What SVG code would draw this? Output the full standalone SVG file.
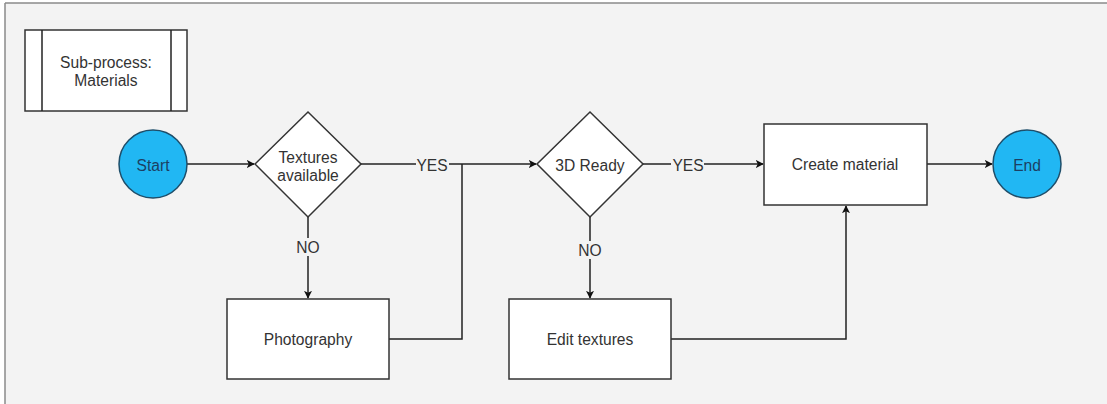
<svg xmlns="http://www.w3.org/2000/svg" width="1107" height="404" viewBox="0 0 1107 404">
<defs>
<style>
.box{fill:#ffffff;stroke:#333333;stroke-width:1.5}
.term{fill:#21b7f3;stroke:#1e4e6a;stroke-width:1.5}
.t{font-family:"Liberation Sans",Arial,sans-serif;font-size:15.6px;fill:#333333;text-anchor:middle;dominant-baseline:central}
.tt{font-family:"Liberation Sans",Arial,sans-serif;font-size:15.6px;fill:#1c3f63;text-anchor:middle;dominant-baseline:central}
.lbl{font-family:"Liberation Sans",Arial,sans-serif;font-size:15.6px;fill:#333333;text-anchor:middle;dominant-baseline:central}
.ln{fill:none;stroke:#222222;stroke-width:1.5}
</style>
<marker id="arr" viewBox="0 0 10 10" refX="9" refY="5" markerWidth="8" markerHeight="8" markerUnits="userSpaceOnUse" orient="auto">
<path d="M0,0 L10,5 L0,10 L2.5,5 Z" fill="#111111"/>
</marker>
</defs>
<rect x="0" y="0" width="1107" height="404" fill="#ffffff"/>
<rect x="5" y="3" width="1102" height="401" fill="#f3f3f3"/>
<line x1="5" y1="3" x2="1107" y2="3" stroke="#8a8a8a" stroke-width="1.5"/>
<line x1="5" y1="3" x2="5" y2="404" stroke="#8a8a8a" stroke-width="1.5"/>

<g id="connectors">
<line class="ln" x1="187" y1="164" x2="254" y2="164" marker-end="url(#arr)"/>
<line class="ln" x1="361" y1="164" x2="416" y2="164"/>
<line class="ln" x1="449" y1="164" x2="536" y2="164" marker-end="url(#arr)"/>
<polyline class="ln" points="389,339 462,339 462,164"/>
<line class="ln" x1="308" y1="217" x2="308" y2="238"/>
<line class="ln" x1="308" y1="256" x2="308" y2="298" marker-end="url(#arr)"/>
<line class="ln" x1="643" y1="164" x2="671" y2="164"/>
<line class="ln" x1="704" y1="164" x2="763" y2="164" marker-end="url(#arr)"/>
<line class="ln" x1="590" y1="217" x2="590" y2="241"/>
<line class="ln" x1="590" y1="259" x2="590" y2="298" marker-end="url(#arr)"/>
<polyline class="ln" points="671,339 846,339 846,206" marker-end="url(#arr)"/>
<line class="ln" x1="927" y1="164" x2="992" y2="164" marker-end="url(#arr)"/>
<text class="lbl" x="432" y="165">YES</text>
<text class="lbl" x="688" y="165">YES</text>
<text class="lbl" x="308" y="247">NO</text>
<text class="lbl" x="590" y="250">NO</text>
</g>

<g id="subprocess">
<rect class="box" x="25" y="30" width="162" height="81"/>
<line class="ln" x1="42" y1="30" x2="42" y2="111" stroke="#333333"/>
<line class="ln" x1="171" y1="30" x2="171" y2="111" stroke="#333333"/>
<text class="t" x="106" y="62">Sub-process:</text>
<text class="t" x="106" y="80">Materials</text>
</g>

<g id="start">
<circle class="term" cx="153" cy="164" r="34"/>
<text class="tt" x="153" y="165">Start</text>
</g>

<g id="textures-available">
<polygon class="box" points="308,112 361,164 308,217 255,164"/>
<text class="t" x="308" y="157">Textures</text>
<text class="t" x="308" y="175">available</text>
</g>

<g id="photography">
<rect class="box" x="227" y="299" width="162" height="80"/>
<text class="t" x="308" y="339">Photography</text>
</g>

<g id="ready-3d">
<polygon class="box" points="590,112 643,164 590,217 537,164"/>
<text class="t" x="590" y="165">3D Ready</text>
</g>

<g id="edit-textures">
<rect class="box" x="509" y="299" width="162" height="80"/>
<text class="t" x="590" y="339">Edit textures</text>
</g>

<g id="create-material">
<rect class="box" x="764" y="124" width="163" height="81"/>
<text class="t" x="845" y="164">Create material</text>
</g>

<g id="end">
<circle class="term" cx="1027" cy="164" r="34"/>
<text class="tt" x="1027" y="165">End</text>
</g>
</svg>
